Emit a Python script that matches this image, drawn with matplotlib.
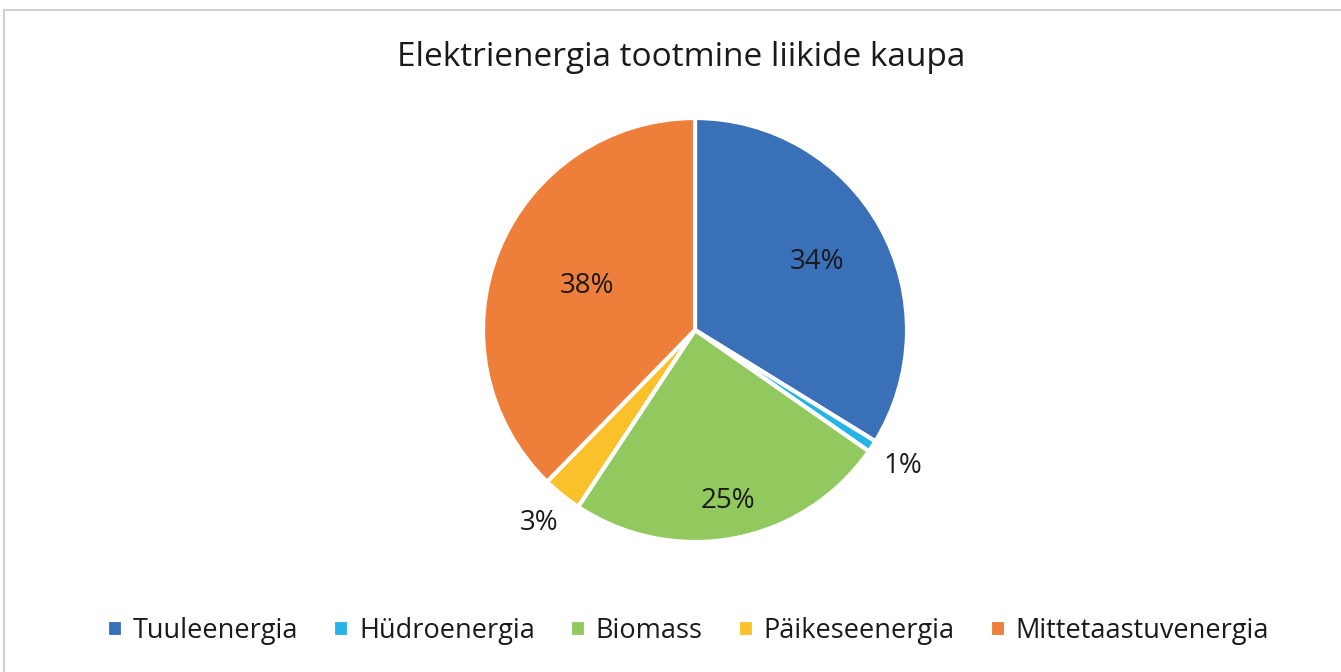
import numpy as np
import matplotlib.pyplot as plt
from matplotlib.patches import Rectangle

# data
labels = ['Tuuleenergia', 'Hüdroenergia', 'Biomass', 'Päikeseenergia', 'Mittetaastuvenergia']
values = [33.8, 0.9, 24.6, 3.0, 37.7]
pct_text = ['34%', '1%', '25%', '3%', '38%']
colors = ['#3a70b8', '#25b4e8', '#92c95f', '#fbc12a', '#ee7f3a']
label_dist = [0.66, 1.17, 0.82, 1.17, 0.55]

plt.rcParams['font.family'] = ['Open Sans', 'DejaVu Sans']

fig = plt.figure(figsize=(13.41, 6.72), dpi=100)
W, H = 1341, 672

# chart border
fig.patches.append(Rectangle((4 / W, -0.1), 1.2, (H - 10) / H + 0.1, transform=fig.transFigure,
                             fill=False, edgecolor='#d0d0d0', linewidth=1.5))

cx, cy, r = 695, 330, 212
ax = fig.add_axes([(cx - r) / W, (H - cy - r) / H, 2 * r / W, 2 * r / H])
wedges, _ = ax.pie(values, colors=colors, startangle=90, counterclock=False, radius=1,
                   wedgeprops=dict(edgecolor='white', linewidth=3))
ax.set_xlim(-1.0, 1.0)
ax.set_ylim(-1.0, 1.0)
ax.set_aspect('equal')
ax.axis('off')

for w, t, d in zip(wedges, pct_text, label_dist):
    ang = np.deg2rad((w.theta1 + w.theta2) / 2)
    ax.text(d * np.cos(ang), d * np.sin(ang), t, ha='center', va='center',
            fontsize=20, color='#1a1a1a', clip_on=False)

fig.text(681 / W, 1 - 58 / H, 'Elektrienergia tootmine liikide kaupa', ha='center', va='center',
         fontsize=24, color='#1a1a1a')

fig.legend(wedges, labels, loc='center', bbox_to_anchor=(688 / W, 1 - 631 / H), ncol=5,
           frameon=False, fontsize=19.5, handlelength=0.6, handleheight=0.6,
           handletextpad=0.35, columnspacing=1.3, labelcolor='#1a1a1a')

fig.savefig('out.png', dpi=100)
